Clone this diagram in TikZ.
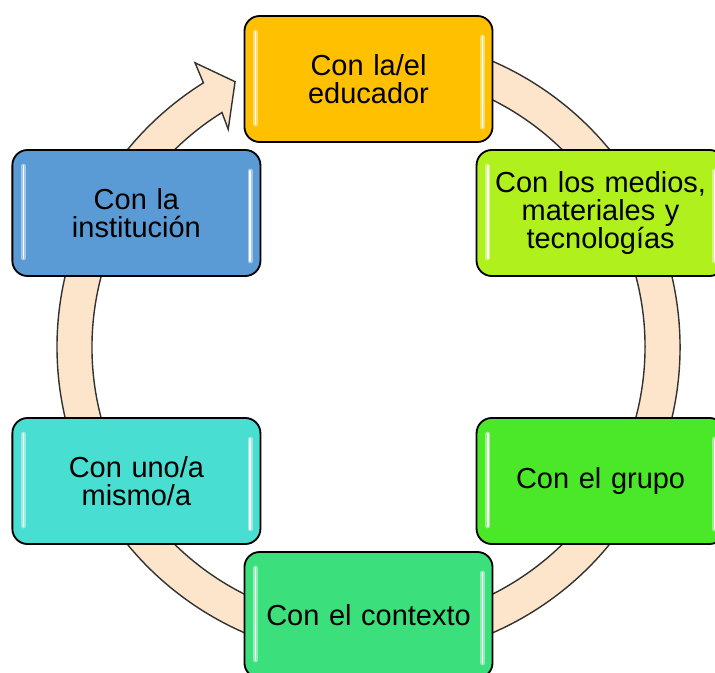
\documentclass[tikz,border=0pt]{standalone}
\usepackage{fontspec}
\setmainfont{Liberation Sans}
\usetikzlibrary{calc}

\definecolor{educator}{RGB}{255,192,0}
\definecolor{media}{RGB}{176,240,28}
\definecolor{group}{RGB}{74,232,41}
\definecolor{context}{RGB}{59,224,124}
\definecolor{self}{RGB}{72,222,209}
\definecolor{institution}{RGB}{91,155,213}
\definecolor{ring fill}{RGB}{253,229,204}
\definecolor{ring line}{RGB}{50,50,50}

\tikzset{
	stage/.style={draw=black, line width=1.3pt, rounded corners=0.38cm, minimum width=6.2cm, minimum height=3.15cm, text width=5.9cm, align=center, font=\fontsize{20.6}{20}\selectfont},
	gloss/.style={white, line cap=round},
}

\begin{document}
\begin{tikzpicture}[x=0.025cm, y=0.025cm]
			\def\R{268};
			\def\ro{311.5};
			\def\ri{276.5};

			\useasboundingbox (0,0) rectangle (715,672);
			\clip (0,0) rectangle (715,672);

			\coordinate (ring centre) at (368.5,325);

			\begin{scope}
				\draw [fill=ring fill, draw=ring line, line width=1pt, line join=miter]
					($ (ring centre) + (100:\ro) $) arc [start angle=100, end angle=-238, radius=\ro]
					-- ($ (ring centre) + (-238.6:333) $)
					-- ($ (ring centre) + (-243.3:297) $)
					-- ($ (ring centre) + (-237.2:259) $)
					-- ($ (ring centre) + (-238:\ri) $) arc [start angle=-238, end angle=100, radius=\ri]
					-- cycle;
			\end{scope}

			\node [stage, fill=educator] (educador) at ($ (ring centre) + (90:\R) $) {Con la/el\\educador};
			\node [stage, fill=media] (medios) at ($ (ring centre) + (30:\R) $) {Con los medios,\\materiales y\\tecnologías};
			\node [stage, fill=group] (grupo) at ($ (ring centre) + (-30:\R) $) {Con el grupo};
			\node [stage, fill=context] (contexto) at ($ (ring centre) + (-90:\R) $) {Con el contexto};
			\node [stage, fill=self] (mismo) at ($ (ring centre) + (-150:\R) $) {Con uno/a\\mismo/a};
			\node [stage, fill=institution] (institucion) at ($ (ring centre) + (150:\R) $) {Con la\\institución};

			\begin{scope}
				\foreach \n in {educador, medios, grupo, contexto, mismo, institucion}
				{
					\draw [gloss, line width=3.5pt, opacity=0.45] ($ (\n.north west) + (12,-17) $) -- ($ (\n.south west) + (12,19) $);
					\draw [gloss, line width=1.3pt] ($ (\n.north west) + (12,-17) $) -- ($ (\n.south west) + (12,19) $);
					\draw [gloss, line width=3.5pt, opacity=0.45] ($ (\n.north east) + (-11,-22) $) -- ($ (\n.south east) + (-11,16) $);
					\draw [gloss, line width=1.3pt] ($ (\n.north east) + (-11,-22) $) -- ($ (\n.south east) + (-11,16) $);
				}
			\end{scope}
		\end{tikzpicture}
\end{document}
